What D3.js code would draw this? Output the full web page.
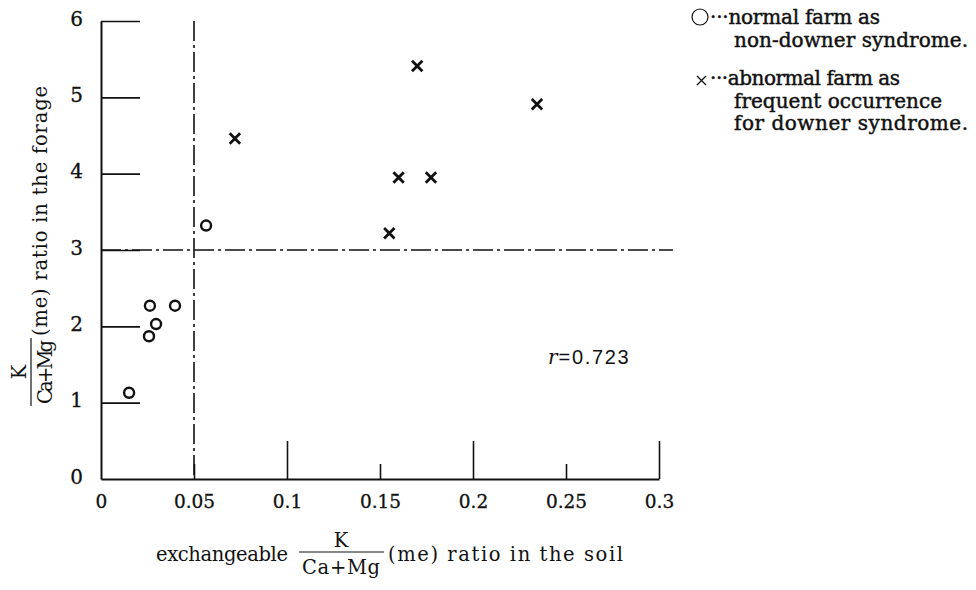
<!DOCTYPE html>
<html><head><meta charset="utf-8">
<script src="https://cdn.jsdelivr.net/npm/d3@7"></script>
<style>
html,body{margin:0;padding:0;background:#fff;}
svg{display:block;}
text{font-family:"DejaVu Serif",serif;fill:#111;}
</style></head>
<body>
<script>
// ---- data ----
const normalX = [0.0151, 0.0263, 0.0296, 0.0258, 0.0398, 0.0565];
const normalY = [1.13, 2.27, 2.03, 1.87, 2.27, 3.32];
const abnormalX = [0.072, 0.170, 0.2344, 0.160, 0.1774, 0.155];
const abnormalY = [4.46, 5.41, 4.91, 3.95, 3.95, 3.22];
const xTicks = [0, 0.05, 0.1, 0.15, 0.2, 0.25, 0.3];
const xTickLabels = ["0", "0.05", "0.1", "0.15", "0.2", "0.25", "0.3"];
const xMajor = [0.1, 0.2, 0.3];
const yTicks = [0, 1, 2, 3, 4, 5, 6];
const thresholdX = 0.05;
const thresholdY = 3;
const corrText = "0.723";
const legendNormal = ["\u00b7\u00b7\u00b7normal farm as", "non-downer syndrome."];
const legendAbnormal = ["\u00b7\u00b7\u00b7abnormal farm as", "frequent occurrence", "for downer syndrome."];

const W = 976, H = 590;
const svg = d3.select("body").append("svg").attr("width", W).attr("height", H);
const x = d3.scaleLinear().domain([0, 0.3]).range([101, 659]);
const y = d3.scaleLinear().domain([0, 6]).range([479, 21]);
const ink = "#111";

// x axis
const gx = svg.append("g").attr("transform", `translate(0,${y(0)})`)
  .call(d3.axisBottom(x).tickValues(xTicks).tickFormat((d, i) => xTickLabels[i])
    .tickSizeInner(-38).tickSizeOuter(0).tickPadding(16));
gx.select(".domain").attr("stroke", ink).attr("stroke-width", 2);
gx.selectAll(".tick line").attr("stroke", ink).attr("stroke-width", 1.6)
  .attr("y2", d => xMajor.includes(d) ? -38 : (d === 0 ? 0 : -15));
gx.selectAll(".tick text").attr("font-family", "DejaVu Serif").attr("font-size", 18.5)
  .attr("fill", ink).attr("stroke", ink).attr("stroke-width", 0.3);

// y axis
const gy = svg.append("g").attr("transform", `translate(${x(0)},0)`)
  .call(d3.axisLeft(y).tickValues(yTicks).tickFormat(d3.format("d"))
    .tickSizeInner(-39).tickSizeOuter(0).tickPadding(18));
gy.select(".domain").attr("stroke", ink).attr("stroke-width", 2);
gy.selectAll(".tick line").attr("stroke", ink).attr("stroke-width", 1.6)
  .attr("x2", d => d === 0 ? 0 : 39);
gy.selectAll(".tick text").attr("font-family", "DejaVu Serif").attr("font-size", 20)
  .attr("fill", ink).attr("stroke", ink).attr("stroke-width", 0.3).attr("dy", "0.2em");

// threshold dash-dot lines
const dash = "20,4,3,4";
svg.append("line").attr("x1", x(thresholdX)).attr("x2", x(thresholdX))
  .attr("y1", y(6)).attr("y2", y(0))
  .attr("stroke", ink).attr("stroke-width", 1.6).attr("stroke-dasharray", dash);
svg.append("line").attr("x1", x(0)).attr("x2", x(0.3075))
  .attr("y1", y(thresholdY)).attr("y2", y(thresholdY))
  .attr("stroke", ink).attr("stroke-width", 1.6).attr("stroke-dasharray", dash);

// points
const normal = normalX.map((v, i) => ({x: v, y: normalY[i]}));
const abnormal = abnormalX.map((v, i) => ({x: v, y: abnormalY[i]}));
svg.append("g").selectAll("circle").data(normal).join("circle")
  .attr("cx", d => x(d.x)).attr("cy", d => y(d.y)).attr("r", 5)
  .attr("fill", "none").attr("stroke", ink).attr("stroke-width", 2.4);
const cs = 5.2;
svg.append("g").selectAll("path").data(abnormal).join("path")
  .attr("d", d => { const cx = x(d.x), cy = y(d.y);
    return `M${cx-cs},${cy-cs}L${cx+cs},${cy+cs}M${cx-cs},${cy+cs}L${cx+cs},${cy-cs}`; })
  .attr("stroke", ink).attr("stroke-width", 2.8).attr("fill", "none");

// correlation
const rt = svg.append("text").attr("x", 548).attr("y", 364).attr("font-size", 20);
rt.append("tspan").attr("font-style", "italic").text("r");
rt.append("tspan").attr("font-family", "Liberation Sans").attr("dx", 1)
  .attr("textLength", 70).attr("lengthAdjust", "spacing").text("=" + corrText);

// legend
svg.append("circle").attr("cx", 700).attr("cy", 17).attr("r", 8)
  .attr("fill", "none").attr("stroke", ink).attr("stroke-width", 1.2);
svg.append("path").attr("d", "M697,76L706,85M697,85L706,76")
  .attr("stroke", ink).attr("stroke-width", 1.3);
const leg = [
  {t: legendNormal[0], x: 710, y: 24, w: 170},
  {t: legendNormal[1], x: 734, y: 47, w: 234},
  {t: legendAbnormal[0], x: 710, y: 85, w: 190},
  {t: legendAbnormal[1], x: 734, y: 108, w: 208},
  {t: legendAbnormal[2], x: 734, y: 130, w: 234}
];
svg.append("g").selectAll("text").data(leg).join("text")
  .attr("x", d => d.x).attr("y", d => d.y).attr("font-size", 20)
  .attr("stroke", ink).attr("stroke-width", 0.45)
  .attr("textLength", d => d.w).attr("lengthAdjust", "spacing").text(d => d.t);

// x axis title
const xt = svg.append("g");
xt.append("text").attr("x", 288).attr("y", 561).attr("text-anchor", "end")
  .attr("font-size", 19.5).attr("textLength", 132).attr("lengthAdjust", "spacing").text("exchangeable");
xt.append("text").attr("x", 341).attr("y", 547).attr("text-anchor", "middle").attr("font-size", 19.5).text("K");
xt.append("text").attr("x", 341).attr("y", 574).attr("text-anchor", "middle").attr("font-size", 19.5)
  .attr("textLength", 78).attr("lengthAdjust", "spacing").text("Ca+Mg");
xt.append("line").attr("x1", 299).attr("x2", 384).attr("y1", 552).attr("y2", 552)
  .attr("stroke", ink).attr("stroke-width", 1.2);
xt.append("text").attr("x", 388).attr("y", 561).attr("font-size", 19.5)
  .attr("textLength", 235).attr("lengthAdjust", "spacing").text("(me) ratio in the soil");

// y axis title (rotated)
const yt = svg.append("g").attr("transform", "rotate(-90)");
yt.append("text").attr("x", -372).attr("y", 26).attr("text-anchor", "middle").attr("font-size", 19.5).text("K");
yt.append("text").attr("x", -372).attr("y", 52).attr("text-anchor", "middle").attr("font-size", 19.5)
  .attr("textLength", 64).attr("lengthAdjust", "spacing").text("Ca+Mg");
yt.append("line").attr("x1", -406).attr("x2", -338).attr("y1", 31).attr("y2", 31)
  .attr("stroke", ink).attr("stroke-width", 1.2);
yt.append("text").attr("x", -336).attr("y", 47).attr("font-size", 19.5)
  .attr("textLength", 250).attr("lengthAdjust", "spacing").text("(me) ratio in the forage");
</script>
</body></html>
